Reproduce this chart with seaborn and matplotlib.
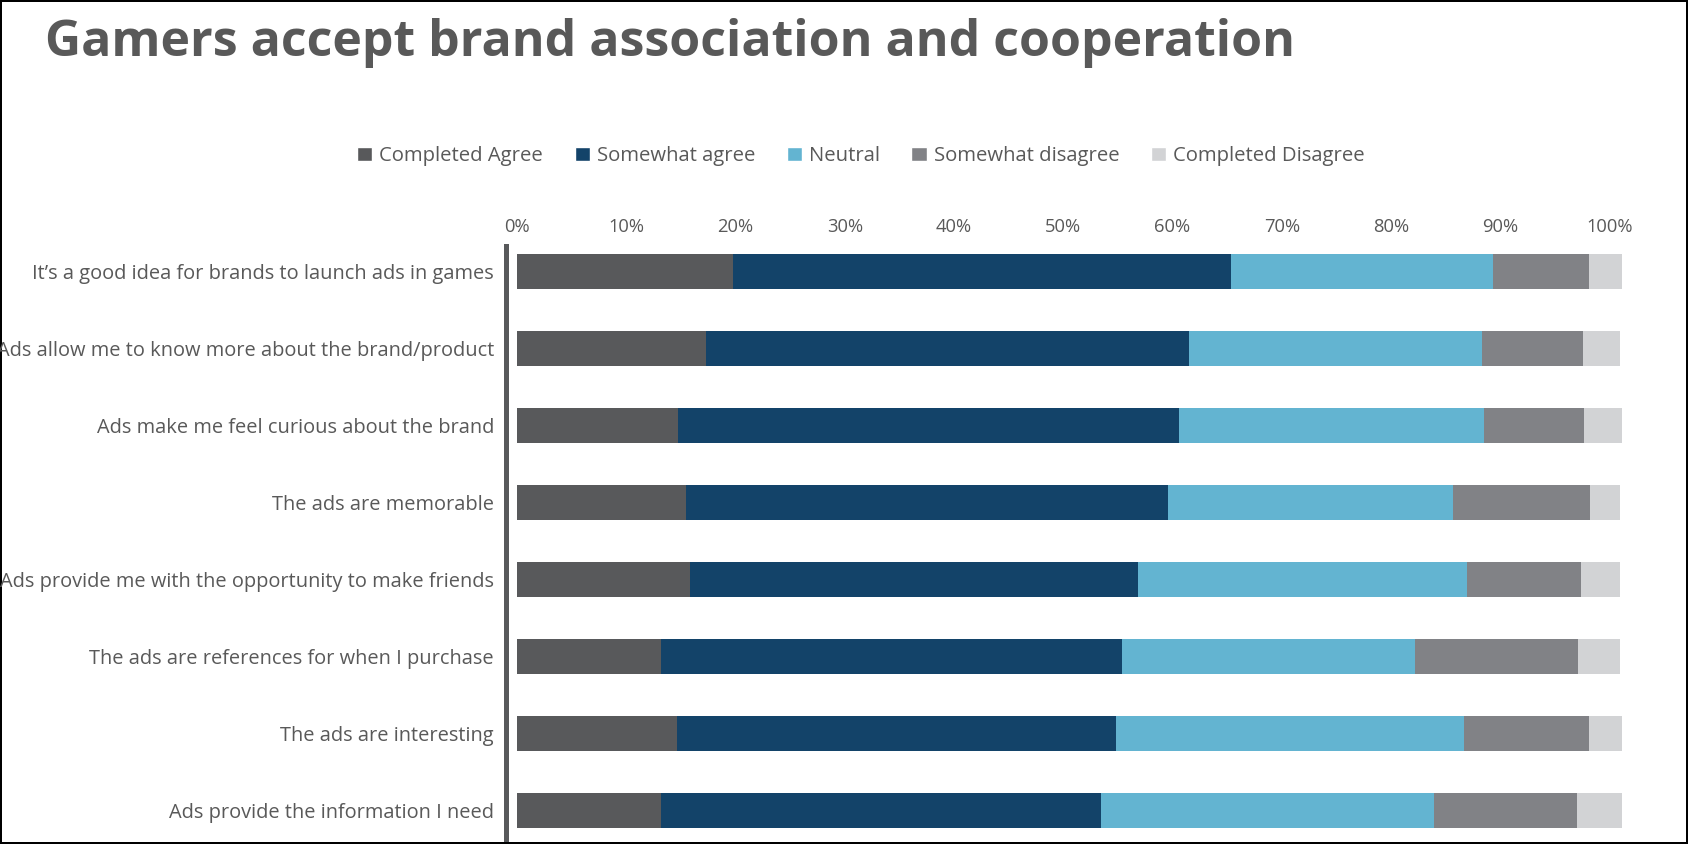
import pandas as pd
import seaborn as sns
import matplotlib.pyplot as plt
from matplotlib.patches import Patch

statements = [
    "It\u2019s a good idea for brands to launch ads in games",
    "Ads allow me to know more about the brand/product",
    "Ads make me feel curious about the brand",
    "The ads are memorable",
    "Ads provide me with the opportunity to make friends",
    "The ads are references for when I purchase",
    "The ads are interesting",
    "Ads provide the information I need",
]
levels = ["Completed Agree", "Somewhat agree", "Neutral",
          "Somewhat disagree", "Completed Disagree"]

completed_agree = [19.8, 17.3, 14.7, 15.5, 15.8, 13.2, 14.6, 13.2]
somewhat_agree = [45.6, 44.2, 45.9, 44.1, 41.0, 42.2, 40.2, 40.3]
neutral = [23.9, 26.8, 27.9, 26.1, 30.2, 26.8, 31.9, 30.4]
somewhat_disagree = [8.8, 9.3, 9.2, 12.5, 10.4, 14.9, 11.4, 13.1]
completed_disagree = [3.0, 3.4, 3.4, 2.8, 3.6, 3.9, 3.0, 4.1]

colors = ["#58595b", "#134369", "#63b4d1", "#818286", "#d2d3d5"]
text_color = "#595959"

df = pd.DataFrame({
    "statement": statements,
    levels[0]: completed_agree,
    levels[1]: somewhat_agree,
    levels[2]: neutral,
    levels[3]: somewhat_disagree,
    levels[4]: completed_disagree,
})
cum = df[levels].cumsum(axis=1)
cum["statement"] = df["statement"]

sns.set_style("white")
plt.rcParams["font.family"] = ["Open Sans", "DejaVu Sans"]

fig = plt.figure(figsize=(16.88, 8.44), dpi=100)
fig.patch.set_edgecolor("black")
fig.patch.set_linewidth(1.5)
ax = fig.add_axes([517 / 1688, 1 - 839 / 844, (1622.6 - 517) / 1688, (839 - 246) / 844])

# stacked bars: draw cumulative totals from the last level backwards
for level, color in reversed(list(zip(levels, colors))):
    sns.barplot(data=cum, x=level, y="statement", color=color,
                width=0.46, ax=ax, saturation=1, linewidth=0)

ax.set_xlim(0, 101.2)
ax.set_ylim(7.37, -0.33)
ax.set_xticks(range(0, 101, 10))
ax.set_xticklabels([f"{t}%" for t in range(0, 101, 10)])
ax.xaxis.tick_top()
ax.set_xlabel("")
ax.set_ylabel("")
ax.tick_params(axis="x", length=0, pad=7, labelsize=13.2, labelcolor=text_color)
ax.tick_params(axis="y", length=0, pad=8.5, labelsize=14.4, labelcolor=text_color)

for s in ["top", "right", "bottom"]:
    ax.spines[s].set_visible(False)
ax.spines["left"].set_position(("outward", 8))
ax.spines["left"].set_color("#58595b")
ax.spines["left"].set_linewidth(3.6)

handles = [Patch(facecolor=c, label=l) for l, c in zip(levels, colors)]
fig.legend(handles=handles, loc="center", bbox_to_anchor=(0.51, 1 - 156 / 844),
           ncol=5, frameon=False, fontsize=14.6, labelcolor=text_color,
           handlelength=0.75, handleheight=0.75, handletextpad=0.35,
           columnspacing=1.55)

fig.text(45 / 1688, 1 - 56 / 844, "Gamers accept brand association and cooperation",
         fontsize=36, fontweight="bold", color=text_color, va="baseline", ha="left")

fig.savefig("out.png", dpi=100, edgecolor=fig.get_edgecolor())
